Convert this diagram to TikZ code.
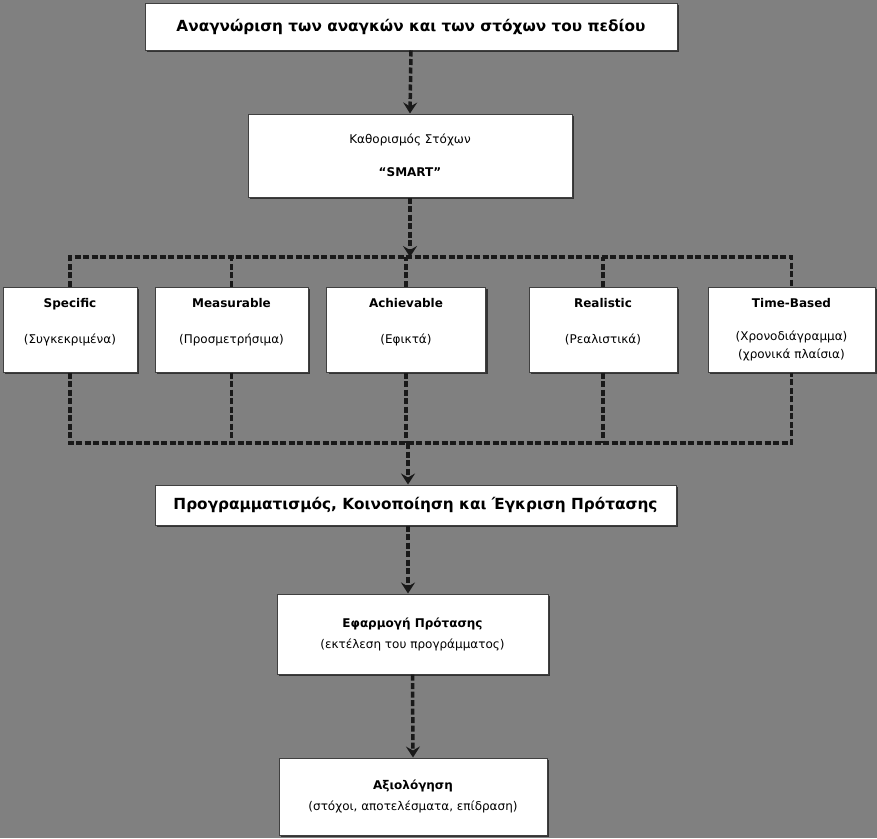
\documentclass[tikz,border=0pt]{standalone}
\usepackage{fontspec}
\setmainfont{DejaVu Sans}
\usetikzlibrary{arrows.meta,shadows}

\begin{document}
\begin{tikzpicture}[x=1pt,y=-1pt,
  box/.style={draw=black!75,line width=1pt,fill=white,align=center,inner sep=0pt,
              font=\fontsize{12}{18}\selectfont,
              drop shadow={shadow xshift=2pt,shadow yshift=-2pt,opacity=1,fill=black!80}},
  bigbox/.style={box,font=\fontsize{15.3}{19}\selectfont\bfseries},
  link/.style={draw=black!90,line width=3.5pt,dash pattern=on 6pt off 2.5pt},
  flow/.style={link,-{Stealth[length=11pt,width=14pt,inset=4pt]}}]
\fill[gray] (0,0) rectangle (877,838);
\useasboundingbox (0,0) rectangle (877,838);

\node[bigbox,minimum width=532pt,minimum height=47pt] (need) at (411,26.5)
     {Αναγνώριση των αναγκών και των στόχων του πεδίου};
\node[box,minimum width=324pt,minimum height=83pt] (smart) at (410,155.5)
     {Καθορισμός Στόχων\\[15pt]\textbf{“SMART”}};

\node[box,minimum width=134pt,minimum height=85pt] (spec) at (70,329.5)
     {\textbf{Specific}\\[18pt](Συγκεκριμένα)\\\mbox{}};
\node[box,minimum width=153pt,minimum height=85pt] (meas) at (231.5,329.5)
     {\textbf{Measurable}\\[18pt](Προσμετρήσιμα)\\\mbox{}};
\node[box,minimum width=159pt,minimum height=85pt] (ach) at (406,329.5)
     {\textbf{Achievable}\\[18pt](Εφικτά)\\\mbox{}};
\node[box,minimum width=148pt,minimum height=85pt] (real) at (603,329.5)
     {\textbf{Realistic}\\[18pt](Ρεαλιστικά)\\\mbox{}};
\node[box,minimum width=167pt,minimum height=85pt] (time) at (791.5,329.5)
     {\textbf{Time-Based}\\[15pt](Χρονοδιάγραμμα)\\(χρονικά πλαίσια)};

\node[bigbox,minimum width=521pt,minimum height=40pt] (prog) at (415.5,505)
     {Προγραμματισμός, Κοινοποίηση και Έγκριση Πρότασης};
\node[box,minimum width=271pt,minimum height=80pt] (impl) at (412.5,634)
     {\textbf{Εφαρμογή Πρότασης}\\[3pt](εκτέλεση του προγράμματος)};
\node[box,minimum width=268pt,minimum height=77pt] (eval) at (413,796.5)
     {\textbf{Αξιολόγηση}\\[3pt](στόχοι, αποτελέσματα, επίδραση)};

\coordinate (top) at (408,257);
\coordinate (bot) at (408,443);

\draw[flow] (need.south) -- (smart.north);
\draw[flow] (smart.south) -- (smart.south |- top);
\draw[link] (spec.north) |- (time.north |- top) -- (time.north);
\draw[link] (meas.north) -- (meas.north |- top)
            (ach.north) -- (ach.north |- top)
            (real.north) -- (real.north |- top);
\draw[link] (spec.south) |- (time.south |- bot) -- (time.south);
\draw[link] (meas.south) -- (meas.south |- bot)
            (ach.south) -- (ach.south |- bot)
            (real.south) -- (real.south |- bot);
\draw[flow] (bot) -- (bot |- prog.north);
\draw[flow] (prog.south -| bot) -- (bot |- impl.north);
\draw[flow] (impl.south) -- (eval.north);
\end{tikzpicture}
\end{document}
